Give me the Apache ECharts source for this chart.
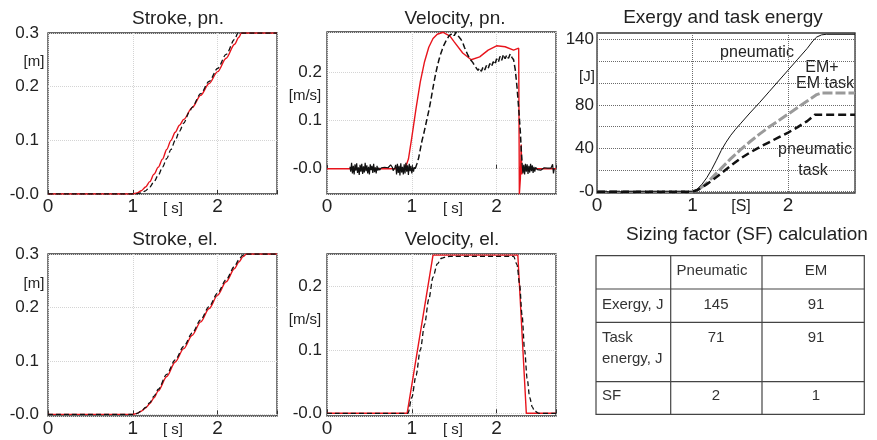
<!DOCTYPE html>
<html><head><meta charset="utf-8">
<script src="https://cdn.jsdelivr.net/npm/echarts@6/dist/echarts.min.js"></script>
<style>html,body{margin:0;padding:0;background:#fff}#c{width:877px;height:440px}</style>
</head><body><div id="c"></div>
<script>
// ---------- tick labels ----------
const xTickValues = [0, 1, 2];
const strokeTickValues = [0, 0.1, 0.2, 0.3];
const velTickValues = [0, 0.1, 0.2];
const exergyTickValues = [0, 40, 80, 140];

// ---------- Stroke, pn. ----------
const strokePnRedT = [0,1.0,1.05,1.1,1.15,1.2,1.25,1.3,1.35,1.4,1.45,1.5,1.55,1.6,1.7,1.8,1.9,2.0,2.1,2.2,2.25,2.28,2.7];
const strokePnRedV = [0,0,0.002,0.006,0.013,0.023,0.037,0.05,0.065,0.083,0.1,0.115,0.128,0.139,0.161,0.184,0.206,0.228,0.253,0.279,0.292,0.3,0.3];
const strokePnBlkT = [0,1.04,1.1,1.15,1.2,1.25,1.3,1.35,1.4,1.45,1.5,1.55,1.6,1.67,1.7,1.8,1.9,2.0,2.1,2.2,2.24,2.7];
const strokePnBlkV = [0,0,0.002,0.006,0.013,0.023,0.035,0.05,0.066,0.083,0.1,0.117,0.132,0.154,0.162,0.187,0.21,0.234,0.26,0.288,0.3,0.3];

// ---------- Velocity, pn. ----------
const velPnRedT = [0,0.92,0.96,1.0,1.05,1.1,1.15,1.2,1.25,1.3,1.37,1.45,1.5,1.6,1.7,1.8,1.9,2.0,2.1,2.2,2.26,2.268,2.28,2.29,2.296,2.305,2.7];
const velPnRedV = [0,0,0.02,0.065,0.125,0.18,0.222,0.252,0.27,0.279,0.283,0.275,0.263,0.24,0.226,0.232,0.246,0.255,0.253,0.246,0.25,-0.053,-0.02,0.05,-0.012,0,0];
// measured (noisy) trace: rest noise before start, motion, rest noise after stop
const velPnNoiseAT = [0.27,0.28,0.29,0.30,0.31,0.32,0.33,0.34,0.35,0.36,0.37,0.38,0.39,0.40,0.41,0.42,0.43,0.44,0.45,0.46,0.47,0.48,0.49,0.50,0.51,0.52,0.53,0.54,0.55,0.56,0.57,0.58,0.59,0.60,0.61,
  0.62,0.64,0.66,0.68,0.70,0.72,0.74,0.75,0.76,0.77,0.78,0.80,
  0.81,0.82,0.83,0.84,0.85,0.86,0.87,0.88,0.89,0.90,0.91,0.92,0.93,0.94,0.95,0.96,0.97,0.98,0.99,1.00,1.01,1.02,1.03,1.04];
const velPnNoiseAV = [0.004,-0.006,0.012,-0.01,0.006,-0.012,0.009,-0.004,0.011,-0.009,0.003,-0.013,0.008,-0.006,0.01,-0.011,0.005,-0.008,0.012,-0.005,0.007,-0.01,0.004,-0.012,0.009,-0.003,0.006,-0.009,0.01,-0.007,0.003,-0.01,0.006,-0.004,0.002,
  -0.003,0.002,-0.002,0.003,-0.001,0.002,0.004,0.008,0.012,0.003,-0.004,0.002,
  0.008,-0.012,0.01,-0.009,0.006,-0.014,0.011,-0.008,0.004,-0.012,0.009,-0.01,0.012,-0.006,0.007,-0.013,0.01,-0.005,0.006,-0.01,0.004,-0.006,0.003,0.0];
const velPnMoveT = [1.04,1.06,1.08,1.10,1.12,1.14,1.16,1.18,1.20,1.22,1.24,1.26,1.28,1.30,1.32,1.34,1.36,1.38,1.40,
  1.42,1.44,1.46,1.48,1.50,1.52,1.54,1.56,1.58,1.60,1.62,1.64,1.66,1.68,1.70,1.72,1.74,1.76,1.78,
  1.80,1.82,1.84,1.86,1.88,1.90,1.92,1.94,1.96,1.98,2.00,2.02,2.04,2.06,2.08,2.10,2.12,2.14,2.16,2.18,
  2.20,2.22,2.24,2.26,2.28,2.29,2.30];
const velPnMoveV = [0.0,0.01,0.022,0.04,0.058,0.072,0.088,0.104,0.12,0.138,0.158,0.178,0.196,0.212,0.226,0.238,0.248,0.257,0.264,
  0.27,0.276,0.272,0.281,0.276,0.283,0.277,0.273,0.268,0.262,0.252,0.244,0.236,0.229,0.226,0.22,0.214,0.21,0.204,
  0.209,0.202,0.211,0.205,0.214,0.208,0.218,0.212,0.222,0.216,0.228,0.221,0.233,0.225,0.237,0.228,0.236,0.229,0.238,0.231,
  0.226,0.205,0.17,0.125,0.075,0.04,0.012];
const velPnNoiseBT = [2.30,2.31,2.32,2.33,2.34,2.35,2.36,2.37,2.38,2.39,2.40,2.41,2.42,2.43,2.44,2.45,
  2.46,2.48,2.50,2.52,2.54,2.56,2.58,2.60,2.62,2.64,2.65,2.66,2.67,2.68];
const velPnNoiseBV = [0.012,-0.01,0.008,-0.012,0.01,-0.006,0.009,-0.011,0.006,-0.008,0.01,-0.005,0.007,-0.009,0.004,-0.006,
  0.003,-0.002,0.002,-0.003,0.001,0.002,-0.002,0.001,-0.001,0.001,0.0,0.009,-0.01,0.0];

// ---------- Exergy and task energy ----------
const exPneuT = [0,1.0,1.05,1.1,1.15,1.2,1.25,1.3,1.35,1.4,1.45,1.5,1.6,1.7,1.8,1.9,2.0,2.1,2.2,2.26,2.3,2.35,2.4,2.7];
const exPneuV = [0,0,2.5,7,13,20.5,29,38,45.5,52,57.5,62.5,72.5,82,92,102,112,122,132,139,142.5,144.5,145,145];
const exEmT = [0,1.0,1.05,1.1,1.15,1.2,1.3,1.4,1.5,1.6,1.7,1.8,1.9,2.0,2.1,2.2,2.3,2.35,2.7];
const exEmV = [0,0,1.5,4.5,8,12.5,21.5,30.5,38.5,46,53,59.5,65.5,71.5,77.5,83.5,89.5,91,91];
const exTaskT = [0,1.0,1.05,1.1,1.15,1.2,1.3,1.4,1.5,1.6,1.7,1.8,1.9,2.0,2.1,2.2,2.28,2.7];
const exTaskV = [0,0,1.5,4,7,10,17,24,30.5,36,41,45.5,50,54.5,59.5,65,71,71];

// ---------- Stroke, el. ----------
const strokeElRedT = [0,1.0,1.05,1.1,1.15,1.2,1.25,1.3,1.4,1.5,1.6,1.7,1.8,1.9,2.0,2.1,2.2,2.25,2.3,2.34,2.7];
const strokeElRedV = [0,0,0.002,0.006,0.012,0.02,0.031,0.044,0.071,0.098,0.123,0.148,0.173,0.198,0.223,0.248,0.273,0.285,0.295,0.3,0.3];
const strokeElBlkT = [0,1.0,1.05,1.1,1.15,1.2,1.25,1.3,1.4,1.5,1.6,1.7,1.8,1.9,2.0,2.1,2.2,2.25,2.29,2.32,2.7];
const strokeElBlkV = [0,0,0.002,0.006,0.013,0.022,0.034,0.047,0.075,0.102,0.127,0.152,0.177,0.202,0.227,0.252,0.277,0.289,0.297,0.3,0.3];

// ---------- Velocity, el. ----------
const velElRedT = [0,0.945,1.25,2.25,2.35,2.7];
const velElRedV = [0,0,0.25,0.25,0,0];
const velElBlkT = [0,0.955,1.0,1.05,1.1,1.15,1.2,1.25,1.3,1.35,1.4,1.45,2.2,2.24,2.27,2.3,2.33,2.36,2.39,2.42,2.45,2.5,2.7];
const velElBlkV = [0,0,0.025,0.06,0.1,0.14,0.18,0.215,0.236,0.245,0.247,0.248,0.248,0.235,0.205,0.155,0.1,0.055,0.025,0.01,0.003,0,0];

// ---------- SF table ----------
const tableHeader = ['', 'Pneumatic', 'EM'];
const tableRowNames = ['Exergy, J', 'Task\nenergy, J', 'SF'];
const tablePneumatic = [145, 71, 2];
const tableEM = [91, 91, 1];

// =====================================================
const FONT = 'Liberation Sans, Arial, Helvetica, sans-serif';
const zip = (t, v) => t.map((x, i) => [x, v[i]]);
const inList = (v, list, tol) => list.find(u => Math.abs(u - v) < tol);

const gridBoxes = [
  {left:48, top:33, width:229, height:161},
  {left:327, top:32, width:229, height:162},
  {left:597, top:33, width:258, height:160},
  {left:48, top:254, width:229, height:162},
  {left:327, top:254, width:229, height:162}
];
const grids = gridBoxes.map(g => Object.assign({show:true, borderColor:'#333', borderWidth:1.3,
  backgroundColor:'rgba(0,0,0,0)', containLabel:false, outerBoundsMode:'none'}, g));

function xAx(i, gridColor) {
  return {type:'value', gridIndex:i, min:0, max:2.7, interval:1,
    axisLine:{show:false},
    axisTick:{show:i!==2, inside:true, length:4, lineStyle:{color:'#333'}},
    axisLabel:{fontSize:19, color:'#222', margin:3, fontFamily:FONT,
      formatter: v => { const u = inList(v, xTickValues, 1e-6); return u === undefined ? '' : String(u); }},
    splitLine:{show:true, lineStyle:{color:gridColor, type:'dotted', width:1}}};
}
function yAx(i, mn, mx, step, list, zeroLbl, dec, margin, gridColor) {
  return {type:'value', gridIndex:i, min:mn, max:mx, minInterval:step, maxInterval:step,
    axisLine:{show:false}, axisTick:{show:false},
    axisLabel:{fontSize:17, color:'#222', margin:margin, fontFamily:FONT, showMinLabel:true, showMaxLabel:true,
      formatter: v => { const u = inList(v, list, step*1e-4); if (u === undefined) return ''; return Math.abs(u) < 1e-12 ? zeroLbl : u.toFixed(dec); }},
    splitLine:{show:true, lineStyle:{color:gridColor, type:'dotted', width:1}}};
}
const LG = '#d4d4d4', DG = '#6a6a6a';
const RED = '#e8141c';

function line(i, data, color, width, type, smooth, z) {
  return {type:'line', xAxisIndex:i, yAxisIndex:i, data:data, showSymbol:false, symbol:'none',
    smooth: smooth ? 0.3 : false, smoothMonotone: smooth ? 'x' : undefined,
    lineStyle:{color:color, width:width, type:type}, z:z || 2, animation:false};
}

const T = (x, y, text, size, extra) => Object.assign({type:'text', x:x, y:y,
  style:Object.assign({text:text, fill:'#222', font:size + 'px ' + FONT, align:'center', verticalAlign:'middle'}, extra || {})});

const graphics = [
  T(178, 19, 'Stroke, pn.', 19), T(455, 19, 'Velocity, pn.', 19), T(723, 18, 'Exergy and task energy', 19),
  T(175, 240, 'Stroke, el.', 19), T(452, 240, 'Velocity, el.', 19), T(747, 235, 'Sizing factor (SF) calculation', 19),
  T(34, 62, '[m]', 15), T(34, 284, '[m]', 15), T(305, 96, '[m/s]', 15), T(305, 320, '[m/s]', 15), T(587, 77, '[J]', 15),
  T(173, 209, '[ s]', 15), T(453, 209, '[ s]', 15), T(173, 430, '[ s]', 15), T(453, 430, '[ s]', 15), T(741, 207, '[S]', 16),
  T(757, 53, 'pneumatic', 16), T(822, 68, 'EM+', 16), T(825, 84, 'EM task', 16),
  T(815, 150, 'pneumatic', 16), T(813, 171, 'task', 16)
];
// table
const tx = [596, 670.7, 762, 864.3];
const ty = [255.7, 289, 322.3, 381.7, 414.3];
graphics.push({type:'rect', shape:{x:tx[0], y:ty[0], width:tx[3]-tx[0], height:ty[4]-ty[0]},
  style:{fill:'none', stroke:'#444', lineWidth:1.2}});
[tx[1], tx[2]].forEach(x => graphics.push({type:'line', shape:{x1:x, y1:ty[0], x2:x, y2:ty[4]}, style:{stroke:'#444', lineWidth:1.2}}));
[ty[1], ty[2], ty[3]].forEach(y => graphics.push({type:'line', shape:{x1:tx[0], y1:y, x2:tx[3], y2:y}, style:{stroke:'#444', lineWidth:1.2}}));
const TT = (x, y, text, align) => ({type:'text', x:x, y:y, style:{text:text, fill:'#333', font:'15px ' + FONT,
  align:align, verticalAlign:'top', lineHeight:21}});
const rowTop = [260, 294, 327, 385];
graphics.push(TT(712, rowTop[0], tableHeader[1], 'center'));
graphics.push(TT(816, rowTop[0], tableHeader[2], 'center'));
tableRowNames.forEach((n, r) => {
  graphics.push(TT(602, rowTop[r+1], n, 'left'));
  graphics.push(TT(716, rowTop[r+1], String(tablePneumatic[r]), 'center'));
  graphics.push(TT(816, rowTop[r+1], String(tableEM[r]), 'center'));
});

const option = {
  animation:false,
  backgroundColor:'#fff',
  textStyle:{fontFamily:FONT},
  grid: grids,
  xAxis: [xAx(0, LG), xAx(1, LG), xAx(2, DG), xAx(3, LG), xAx(4, LG)],
  yAxis: [
    yAx(0, 0, 0.3, 0.1, strokeTickValues, '-0.0', 1, 9, LG),
    yAx(1, -0.0525, 0.2836, 0.1, velTickValues, '-0.0', 1, 5, LG),
    yAx(2, -1.2, 146.2, 20, exergyTickValues, '-0', 0, 3, DG),
    yAx(3, -0.003, 0.3, 0.1, strokeTickValues, '-0.0', 1, 9, LG),
    yAx(4, -0.0043, 0.2517, 0.1, velTickValues, '-0.0', 1, 5, LG)
  ],
  series: [
    line(0, zip(strokePnRedT, strokePnRedV), RED, 1.4, 'solid', true, 2),
    line(0, zip(strokePnBlkT, strokePnBlkV), '#111', 1.3, [5, 3], true, 3),
    line(1, zip(velPnRedT, velPnRedV), RED, 1.4, 'solid', false, 2),
    line(1, zip(velPnNoiseAT, velPnNoiseAV), '#111', 1.2, 'solid', false, 3),
    line(1, zip(velPnMoveT, velPnMoveV), '#111', 1.5, [6, 3], false, 3),
    line(1, zip(velPnNoiseBT, velPnNoiseBV), '#111', 1.2, 'solid', false, 3),
    line(2, zip(exEmT, exEmV), '#9a9a9a', 3, [10, 3], false, 2),
    line(2, zip(exTaskT, exTaskV), '#111', 2.5, [8, 4], false, 3),
    line(2, zip(exPneuT, exPneuV), '#111', 1, 'solid', false, 4),
    line(3, zip(strokeElRedT, strokeElRedV), RED, 1.4, 'solid', true, 2),
    line(3, zip(strokeElBlkT, strokeElBlkV), '#111', 1.3, [5, 3], true, 3),
    line(4, zip(velElRedT, velElRedV), RED, 1.4, 'solid', false, 2),
    line(4, zip(velElBlkT, velElBlkV), '#111', 1.3, [5, 3], true, 3)
  ],
  graphic: graphics
};
const chart = echarts.init(document.getElementById('c'), null, {renderer:'canvas'});
chart.setOption(option);
</script>
</body></html>
